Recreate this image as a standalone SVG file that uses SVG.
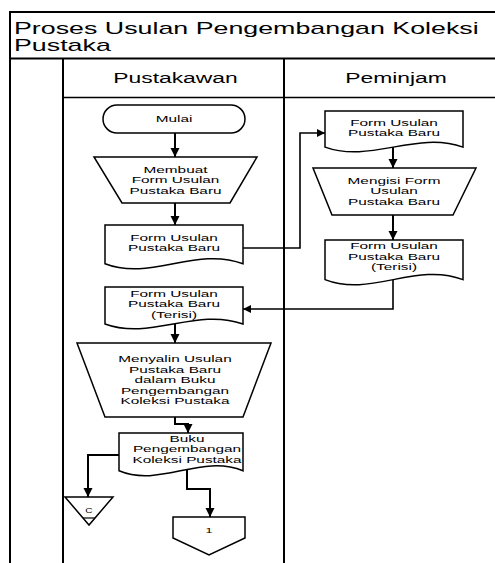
<svg xmlns="http://www.w3.org/2000/svg" width="495" height="563" viewBox="0 0 495 563">
<defs>
<marker id="ah" viewBox="0 0 10 10" refX="10" refY="5" markerWidth="9" markerHeight="10" markerUnits="userSpaceOnUse" orient="auto">
<path d="M0,0 L10,5 L0,10 z" fill="#000"/>
</marker>
<marker id="ah2" viewBox="0 0 10 10" refX="10" refY="5" markerWidth="12" markerHeight="8" markerUnits="userSpaceOnUse" orient="auto">
<path d="M0,0 L10,5 L0,10 z" fill="#000"/>
</marker>
</defs>
<style>
.t{font-family:"Liberation Sans",Arial,sans-serif;font-size:9.8px;fill:#000;text-anchor:middle}
.h{font-family:"Liberation Sans",Arial,sans-serif;font-size:14.6px;fill:#000;text-anchor:middle}
.ti{font-family:"Liberation Sans",Arial,sans-serif;font-size:16px;fill:#000}
.n{fill:#fff;stroke:#000;stroke-width:1.5}
.f{fill:none;stroke:#000;stroke-width:2}
.c{fill:none;stroke:#000;stroke-width:2}
.c2{fill:none;stroke:#000;stroke-width:1.6}
</style>
<rect width="495" height="563" fill="#fff"/>
<g id="frame">
<line class="f" x1="10" y1="12" x2="495" y2="12"/>
<line class="f" x1="10" y1="11" x2="10" y2="563"/>
<line class="f" x1="10" y1="58.5" x2="495" y2="58.5"/>
<line class="f" x1="63" y1="58" x2="63" y2="563"/>
<line x1="63" y1="97.5" x2="495" y2="97.5" stroke="#000" stroke-width="1.4"/>
<line class="f" x1="284" y1="58" x2="284" y2="563"/>
<text class="ti" transform="translate(14,0) scale(1.675,1)" x="0" y="34">Proses Usulan Pengembangan Koleksi</text>
<text class="ti" transform="translate(14,0) scale(1.675,1)" x="0" y="51">Pustaka</text>
<text class="h" transform="translate(175.5,0) scale(1.566,1)" x="0" y="83">Pustakawan</text>
<text class="h" transform="translate(396,0) scale(1.566,1)" x="0" y="83">Peminjam</text>
</g>
<g id="connectors">
<path class="c" d="M175,133 V157" marker-end="url(#ah)"/>
<path class="c" d="M175,203 V225" marker-end="url(#ah)"/>
<path class="c2" d="M240,248 H300 V133 H325" marker-end="url(#ah2)"/>
<path class="c" d="M393,147 V168" marker-end="url(#ah)"/>
<path class="c" d="M393,215 V240" marker-end="url(#ah)"/>
<path class="c2" d="M393,278 V309 H243" marker-end="url(#ah2)"/>
<path class="c" d="M175,322 V343" marker-end="url(#ah)"/>
<path class="c" d="M175,415 V424 H188 V433" marker-end="url(#ah)"/>
<path class="c" d="M121,455 H88 V497" marker-end="url(#ah)"/>
<path class="c" d="M187,468 V489 H210 V517" marker-end="url(#ah)"/>
</g>
<g id="mulai">
<rect class="n" x="103" y="105" width="142" height="28" rx="14" ry="14"/>
<text class="t" transform="translate(174,0) scale(1.566,1)" x="0" y="122">Mulai</text>
</g>
<g id="membuat">
<path class="n" d="M94,157 H257 L230,203 H122 Z"/>
<text class="t" transform="translate(175.5,0) scale(1.566,1)"><tspan x="0" y="173">Membuat</tspan><tspan x="0" y="183.5">Form Usulan</tspan><tspan x="0" y="194">Pustaka Baru</tspan></text>
</g>
<g id="form-usulan-1">
<path class="n" d="M105,225 H243 V263.7 C196.1,246.1 150.5,281.3 105,263.7 Z"/>
<text class="t" transform="translate(174,0) scale(1.566,1)"><tspan x="0" y="241">Form Usulan</tspan><tspan x="0" y="251.5">Pustaka Baru</tspan></text>
</g>
<g id="form-usulan-2">
<path class="n" d="M325,111 H463 V147.1 C416.1,130.7 370.5,163.5 325,147.1 Z"/>
<text class="t" transform="translate(394,0) scale(1.566,1)"><tspan x="0" y="126">Form Usulan</tspan><tspan x="0" y="136.5">Pustaka Baru</tspan></text>
</g>
<g id="mengisi">
<path class="n" d="M313,168 H476 L453,215 H332 Z"/>
<text class="t" transform="translate(394,0) scale(1.566,1)"><tspan x="0" y="184">Mengisi Form</tspan><tspan x="0" y="194.5">Usulan</tspan><tspan x="0" y="205">Pustaka Baru</tspan></text>
</g>
<g id="form-terisi-2">
<path class="n" d="M325,240 H463 V279.6 C416.1,261.6 370.5,297.6 325,279.6 Z"/>
<text class="t" transform="translate(394,0) scale(1.566,1)"><tspan x="0" y="249.5">Form Usulan</tspan><tspan x="0" y="260">Pustaka Baru</tspan><tspan x="0" y="270.5">(Terisi)</tspan></text>
</g>
<g id="form-terisi-1">
<path class="n" d="M105,287 H243 V324 C196.1,307.2 150.5,340.8 105,324 Z"/>
<text class="t" transform="translate(174,0) scale(1.566,1)"><tspan x="0" y="297">Form Usulan</tspan><tspan x="0" y="307.5">Pustaka Baru</tspan><tspan x="0" y="318">(Terisi)</tspan></text>
</g>
<g id="menyalin">
<path class="n" d="M77,343 H271 L243,417 H105 Z"/>
<text class="t" transform="translate(175,0) scale(1.566,1)"><tspan x="0" y="362.5">Menyalin Usulan</tspan><tspan x="0" y="373">Pustaka Baru</tspan><tspan x="0" y="383.5">dalam Buku</tspan><tspan x="0" y="394">Pengembangan</tspan><tspan x="0" y="404.5">Koleksi Pustaka</tspan></text>
</g>
<g id="buku">
<path class="n" d="M119,433 H243 V470.8 C200.8,453.6 159.9,488 119,470.8 Z"/>
<text class="t" transform="translate(187,0) scale(1.566,1)"><tspan x="0" y="442">Buku</tspan><tspan x="0" y="452.5">Pengembangan</tspan><tspan x="0" y="463">Koleksi Pustaka</tspan></text>
</g>
<g id="arsip-c">
<path class="n" d="M65,497 H113 L89,525 Z"/>
<line x1="83" y1="518" x2="95" y2="518" stroke="#000" stroke-width="1.2"/>
<text class="t" transform="translate(89,0) scale(1.566,1)" x="0" y="513" style="font-size:6.5px">C</text>
</g>
<g id="offpage-1">
<path class="n" d="M173,517 H245 V538 L209,555 L173,538 Z"/>
<text class="t" transform="translate(209,0) scale(1.566,1)" x="0" y="533" style="font-size:8px">1</text>
</g>
</svg>
